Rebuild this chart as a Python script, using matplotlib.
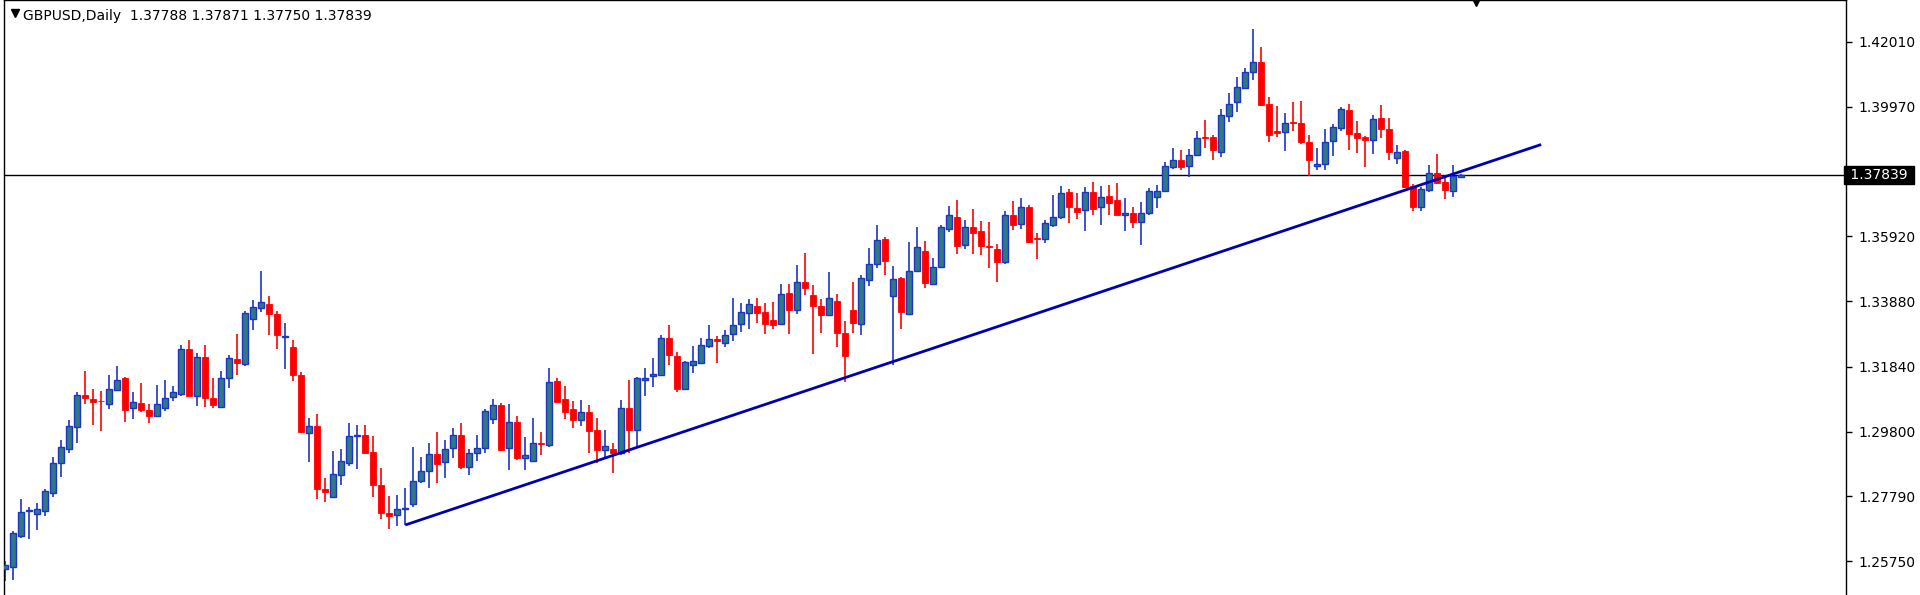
import matplotlib
matplotlib.use("Agg")
import matplotlib.pyplot as plt
import numpy as np

# GBPUSD daily candles (oldest first)
opens = [
    1.2550, 1.2559, 1.2655, 1.2733, 1.2724, 1.2732, 1.2790, 1.2883, 1.2928, 1.2996,
    1.3094, 1.3082, 1.3078, 1.3067, 1.3112, 1.3149, 1.3054, 1.3069, 1.3049, 1.3031,
    1.3056, 1.3088, 1.3100, 1.3239, 1.3093, 1.3213, 1.3085, 1.3059, 1.3148, 1.3207,
    1.3194, 1.3332, 1.3368, 1.3379, 1.3348, 1.3278, 1.3246, 1.3158, 1.2978, 1.3000,
    1.2803, 1.2776, 1.2845, 1.2883, 1.2966, 1.2972, 1.2918, 1.2813, 1.2727, 1.2719,
    1.2739, 1.2755, 1.2826, 1.2859, 1.2911, 1.2885, 1.2930, 1.2972, 1.2871, 1.2914,
    1.2930, 1.3022, 1.3063, 1.2930, 1.3011, 1.2897, 1.2890, 1.2946, 1.2940, 1.3138,
    1.3082, 1.3051, 1.3016, 1.3041, 1.2986, 1.2924, 1.2928, 1.2915, 1.3054, 1.2987,
    1.3144, 1.3156, 1.3159, 1.3275, 1.3219, 1.3114, 1.3188, 1.3196, 1.3249, 1.3271,
    1.3259, 1.3287, 1.3318, 1.3352, 1.3375, 1.3354, 1.3329, 1.3318, 1.3415, 1.3360,
    1.3448, 1.3409, 1.3374, 1.3346, 1.3390, 1.3291, 1.3360, 1.3318, 1.3456, 1.3504,
    1.3583, 1.3404, 1.3461, 1.3349, 1.3483, 1.3546, 1.3444, 1.3495, 1.3616, 1.3651,
    1.3565, 1.3621, 1.3608, 1.3563, 1.3552, 1.3512, 1.3660, 1.3631, 1.3682, 1.3586,
    1.3583, 1.3627, 1.3651, 1.3729, 1.3680, 1.3673, 1.3729, 1.3682, 1.3717, 1.3705,
    1.3657, 1.3666, 1.3638, 1.3666, 1.3714, 1.3735, 1.3809, 1.3829, 1.3813, 1.3847,
    1.3901, 1.3901, 1.3856, 1.3969, 1.4013, 1.4056, 1.4106, 1.4138, 1.4007, 1.3921,
    1.3919, 1.3949, 1.3945, 1.3888, 1.3811, 1.3817, 1.3889, 1.3930, 1.3987, 1.3915,
    1.3901, 1.3892, 1.3961, 1.3926, 1.3838, 1.3859, 1.3749, 1.3684, 1.3738, 1.3791,
    1.3761, 1.3735, 1.37788,
]
highs = [
    1.2576, 1.2669, 1.2770, 1.2745, 1.2758, 1.2803, 1.2903, 1.2954, 1.3016, 1.3105,
    1.3171, 1.3114, 1.3108, 1.3159, 1.3186, 1.3152, 1.3105, 1.3132, 1.3067, 1.3126,
    1.3144, 1.3123, 1.3251, 1.3268, 1.3227, 1.3253, 1.3148, 1.3170, 1.3220, 1.3286,
    1.3358, 1.3393, 1.3483, 1.3405, 1.3358, 1.3321, 1.3268, 1.3168, 1.3025, 1.3035,
    1.2835, 1.2921, 1.2928, 1.3008, 1.3002, 1.3002, 1.2966, 1.2867, 1.2780, 1.2784,
    1.2806, 1.2933, 1.2903, 1.2946, 1.2980, 1.2954, 1.2992, 1.3008, 1.2928, 1.2970,
    1.3051, 1.3082, 1.3069, 1.3067, 1.3031, 1.2964, 1.3025, 1.2980, 1.3180, 1.3150,
    1.3124, 1.3076, 1.3081, 1.3064, 1.3025, 1.2987, 1.2945, 1.3081, 1.3144, 1.3153,
    1.3180, 1.3212, 1.3282, 1.3315, 1.3229, 1.3201, 1.3249, 1.3275, 1.3314, 1.3279,
    1.3298, 1.3399, 1.3384, 1.3397, 1.3399, 1.3384, 1.3385, 1.3443, 1.3443, 1.3502,
    1.3539, 1.3440, 1.3397, 1.3480, 1.3411, 1.3328, 1.3449, 1.3470, 1.3554, 1.3627,
    1.3589, 1.3500, 1.3465, 1.3575, 1.3621, 1.3577, 1.3523, 1.3628, 1.3686, 1.3707,
    1.3643, 1.3677, 1.3639, 1.3637, 1.3567, 1.3671, 1.3702, 1.3711, 1.3690, 1.3601,
    1.3643, 1.3722, 1.3749, 1.3741, 1.3726, 1.3746, 1.3761, 1.3749, 1.3753, 1.3759,
    1.3711, 1.3684, 1.3699, 1.3743, 1.3752, 1.3823, 1.3868, 1.3862, 1.3866, 1.3922,
    1.3956, 1.3910, 1.3989, 1.4040, 1.4089, 1.4117, 1.4241, 1.4184, 1.4027, 1.3999,
    1.3977, 1.4011, 1.4016, 1.3910, 1.3868, 1.3927, 1.3942, 1.3995, 1.4005, 1.3951,
    1.3907, 1.3971, 1.4002, 1.3961, 1.3878, 1.3862, 1.3755, 1.3747, 1.3814, 1.3848,
    1.3783, 1.3814, 1.37871,
]
lows = [
    1.2514, 1.2517, 1.2648, 1.2645, 1.2673, 1.2717, 1.2778, 1.2838, 1.2915, 1.2945,
    1.3067, 1.3002, 1.2982, 1.3051, 1.3108, 1.3010, 1.3019, 1.3042, 1.3008, 1.3029,
    1.3047, 1.3076, 1.3093, 1.3093, 1.3061, 1.3059, 1.3054, 1.3055, 1.3116, 1.3158,
    1.3186, 1.3298, 1.3355, 1.3284, 1.3239, 1.3176, 1.3140, 1.2978, 1.2885, 1.2770,
    1.2761, 1.2774, 1.2814, 1.2875, 1.2865, 1.2913, 1.2776, 1.2707, 1.2675, 1.2687,
    1.2688, 1.2746, 1.2821, 1.2806, 1.2820, 1.2835, 1.2899, 1.2865, 1.2844, 1.2890,
    1.2915, 1.3005, 1.2921, 1.2862, 1.2891, 1.2862, 1.2889, 1.2909, 1.2933, 1.3073,
    1.3019, 1.2993, 1.2999, 1.2915, 1.2883, 1.2897, 1.2853, 1.2907, 1.2913, 1.2930,
    1.3093, 1.3120, 1.3156, 1.3189, 1.3106, 1.3111, 1.3164, 1.3191, 1.3241, 1.3196,
    1.3247, 1.3263, 1.3292, 1.3302, 1.3322, 1.3287, 1.3303, 1.3316, 1.3287, 1.3348,
    1.3409, 1.3225, 1.3289, 1.3342, 1.3247, 1.3136, 1.3289, 1.3283, 1.3435, 1.3494,
    1.3472, 1.3189, 1.3301, 1.3346, 1.3481, 1.3429, 1.3441, 1.3492, 1.3605, 1.3538,
    1.3552, 1.3538, 1.3532, 1.3494, 1.3450, 1.3504, 1.3613, 1.3616, 1.3571, 1.3520,
    1.3571, 1.3622, 1.3645, 1.3634, 1.3646, 1.3610, 1.3658, 1.3627, 1.3657, 1.3657,
    1.3609, 1.3619, 1.3565, 1.3659, 1.3681, 1.3732, 1.3803, 1.3799, 1.3777, 1.3842,
    1.3868, 1.3829, 1.3841, 1.3949, 1.3981, 1.4052, 1.4082, 1.4001, 1.3888, 1.3903,
    1.3860, 1.3920, 1.3880, 1.3781, 1.3799, 1.3800, 1.3844, 1.3920, 1.3862, 1.3854,
    1.3809, 1.3850, 1.3898, 1.3830, 1.3817, 1.3743, 1.3672, 1.3670, 1.3732, 1.3755,
    1.3708, 1.3716, 1.37750,
]
closes = [
    1.2564, 1.2663, 1.2731, 1.2735, 1.2740, 1.2794, 1.2882, 1.2933, 1.2998, 1.3095,
    1.3085, 1.3075, 1.3076, 1.3113, 1.3143, 1.3050, 1.3073, 1.3048, 1.3031, 1.3066,
    1.3085, 1.3104, 1.3239, 1.3093, 1.3213, 1.3087, 1.3063, 1.3150, 1.3212, 1.3196,
    1.3352, 1.3370, 1.3385, 1.3350, 1.3282, 1.3280, 1.3159, 1.2980, 1.2999, 1.2802,
    1.2793, 1.2847, 1.2888, 1.2966, 1.2972, 1.2915, 1.2815, 1.2727, 1.2717, 1.2738,
    1.2743, 1.2828, 1.2859, 1.2910, 1.2880, 1.2926, 1.2972, 1.2869, 1.2913, 1.2930,
    1.3045, 1.3063, 1.2924, 1.3011, 1.2898, 1.2907, 1.2945, 1.2942, 1.3136, 1.3075,
    1.3043, 1.3016, 1.3041, 1.2984, 1.2923, 1.2935, 1.2915, 1.3054, 1.2987, 1.3149,
    1.3149, 1.3162, 1.3275, 1.3221, 1.3113, 1.3198, 1.3201, 1.3251, 1.3271, 1.3263,
    1.3282, 1.3316, 1.3354, 1.3381, 1.3353, 1.3318, 1.3316, 1.3410, 1.3360, 1.3448,
    1.3431, 1.3375, 1.3347, 1.3398, 1.3290, 1.3218, 1.3322, 1.3461, 1.3504, 1.3580,
    1.3514, 1.3457, 1.3355, 1.3483, 1.3557, 1.3447, 1.3495, 1.3622, 1.3660, 1.3562,
    1.3622, 1.3603, 1.3562, 1.3560, 1.3510, 1.3660, 1.3628, 1.3682, 1.3575, 1.3583,
    1.3632, 1.3651, 1.3727, 1.3682, 1.3669, 1.3729, 1.3678, 1.3714, 1.3696, 1.3657,
    1.3664, 1.3638, 1.3666, 1.3734, 1.3734, 1.3813, 1.3832, 1.3809, 1.3847, 1.3898,
    1.3899, 1.3862, 1.3971, 1.4005, 1.4058, 1.4106, 1.4138, 1.4002, 1.3910, 1.3915,
    1.3945, 1.3946, 1.3888, 1.3832, 1.3818, 1.3886, 1.3933, 1.3991, 1.3913, 1.3900,
    1.3892, 1.3960, 1.3926, 1.3856, 1.3856, 1.3746, 1.3684, 1.3740, 1.3789, 1.3759,
    1.3738, 1.3781, 1.37839,
]

price_ticks = [1.42010, 1.39970, 1.35920, 1.33880, 1.31840, 1.29800, 1.27790, 1.25750]
last_price = 1.37839
title = "GBPUSD,Daily  1.37788 1.37871 1.37750 1.37839"

# trendline anchors: (bar index, price)
trend_x = [50, 192]
trend_y = [1.2689, 1.3879]

fig = plt.figure(figsize=(19.2, 5.95), dpi=100)
ax = fig.add_axes([4 / 1920, 0.0, (1846 - 4) / 1920, 1.0])

idx = np.arange(len(opens))
o = np.array(opens); h = np.array(highs); l = np.array(lows); c = np.array(closes)
up = c >= o
bull_fill, bull_edge, bear = "#2f7a7e", "#1c35c8", "#ff0000"

ax.vlines(idx[up], l[up], h[up], color=bull_edge, lw=1.2, zorder=2)
ax.vlines(idx[~up], l[~up], h[~up], color=bear, lw=1.2, zorder=2)
body = np.maximum(np.abs(c - o), 0.00012)
ax.bar(idx[up], body[up], bottom=o[up], width=0.72, color=bull_fill,
       edgecolor=bull_edge, linewidth=1.0, zorder=3)
ax.bar(idx[~up], body[~up], bottom=c[~up], width=0.72, color=bear,
       edgecolor=bear, linewidth=0.6, zorder=3)

ax.plot(trend_x, trend_y, color="#0000b0", lw=2, zorder=4, solid_capstyle="butt")
ax.axhline(last_price, color="black", lw=1, zorder=1)

ax.set_xlim(-0.16, 230.1)
ax.set_ylim(1.2470, 1.4331)

ax.yaxis.tick_right()
ax.set_yticks(price_ticks)
ax.set_yticklabels([f"{p:.5f}" for p in price_ticks], fontsize=10)
ax.tick_params(axis="y", direction="out", length=4, pad=5, width=1)
ax.set_xticks([])
ax.spines["bottom"].set_visible(False)
for s in ("left", "top", "right"):
    ax.spines[s].set_linewidth(1)

ax.text(1.0, last_price, f" {last_price:.5f} ", transform=ax.get_yaxis_transform(),
        fontsize=10, color="white", va="center", ha="left",
        bbox=dict(boxstyle="square,pad=0.15", facecolor="black", edgecolor="black"))
ax.text(0.0105, 0.985, title, transform=ax.transAxes, fontsize=10, va="top", ha="left")
ax.plot([0.006], [0.978], marker="v", color="black", markersize=6,
        transform=ax.transAxes, clip_on=False)
ax.plot([183.8], [1.4331], marker="v", color="black", markersize=9,
        clip_on=False, zorder=5)

fig.savefig("out.png", dpi=100)
